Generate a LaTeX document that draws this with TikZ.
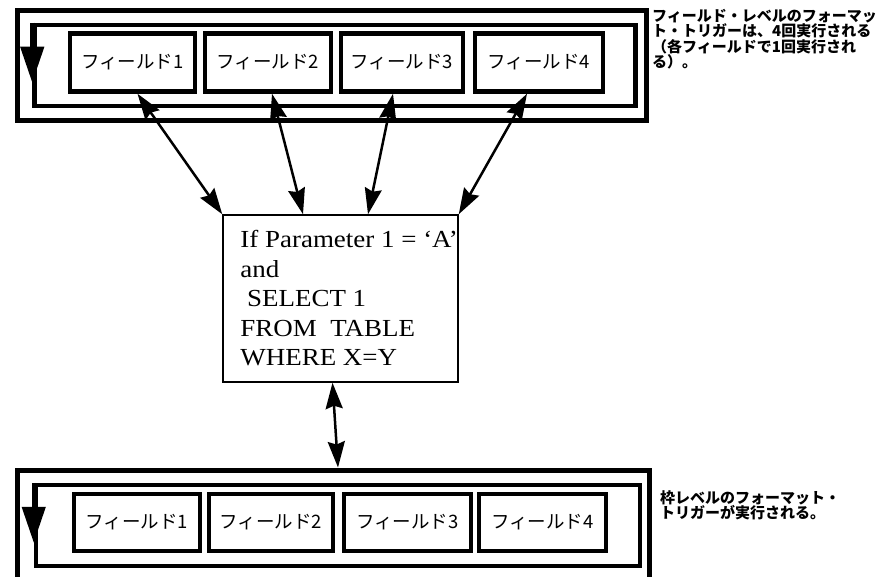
\documentclass[tikz,border=0pt]{standalone}
\usepackage{fontspec}
\setmainfont{Liberation Serif}
\newfontfamily\widefont[FakeStretch=1.1]{Liberation Serif}
\newfontfamily\jpfont{Noto Sans CJK JP}
\usetikzlibrary{arrows.meta}

\begin{document}
\begin{tikzpicture}[x=1pt,y=-1pt,
	frame/.style={draw,line width=5pt,inner sep=0pt},
	innerframe/.style={draw,line width=4.5pt,inner sep=0pt},
	field/.style={draw,line width=4.5pt,inner sep=0pt,font=\jpfont\fontsize{18.5}{18.5}\selectfont},
	link/.style={line width=2.5pt,{Stealth[length=26pt,width=17pt,inset=3pt]}-{Stealth[length=26pt,width=17pt,inset=3pt]}},
	turn/.style={line width=4.5pt,-{Triangle[length=36pt,width=23pt]}},
	note/.style={anchor=north west,align=left,inner sep=0pt,font=\jpfont\bfseries\fontsize{15}{15.5}\selectfont}]
		\useasboundingbox (0,0) rectangle (888,577);
		
		% upper frame
		\node[frame,minimum width=629pt,minimum height=110pt] (topouter) at (331.5,65.5) {};
		\node[innerframe,minimum width=601pt,minimum height=81pt] (topinner) at (335,65.5) {};
		\draw[turn] (topinner.north west) -- ++(0,60);
		
		\node[field,minimum width=125pt,minimum height=58pt] (f1) at (132.5,62.5) {フィールド1};
		\node[field,minimum width=126pt,minimum height=58pt] (f2) at (268,62.5) {フィールド2};
		\node[field,minimum width=122pt,minimum height=58pt] (f3) at (402,62.5) {フィールド3};
		\node[field,minimum width=128pt,minimum height=58pt] (f4) at (539,62.5) {フィールド4};
		
		\node[note] (topnote) at (652,9) {フィールド・レベルのフォーマッ\\ト・トリガーは、4回実行される\\（各フィールドで1回実行され\\る）。};
		
		% condition
		\node[draw,line width=1.5pt,minimum width=235pt,minimum height=167pt] (box) at (340.5,298.5) {};
		\node[anchor=north west,align=left,inner sep=0pt,font=\widefont\fontsize{24.5}{29.5}\selectfont] (cond) at ([xshift=18pt,yshift=-16pt]box.north west) {If Parameter 1 = ‘A’\\and\\\ SELECT 1\\FROM\ \ TABLE\\WHERE X=Y};
		
		\draw[link] ([xshift=5pt]f1.south) -- (box.north west);
		\draw[link] ([xshift=4pt]f2.south) -- ([xshift=-37.5pt]box.north);
		\draw[link] ([xshift=-9pt]f3.south) -- ([xshift=27.5pt]box.north);
		\draw[link] ([xshift=-12pt]f4.south) -- (box.north east);
		
		% lower frame
		\node[frame,minimum width=632pt,minimum height=150pt] (botouter) at (333,545) {};
		\node[innerframe,minimum width=604pt,minimum height=81pt] (botinner) at (338,525.5) {};
		\draw[turn] (botinner.north west) -- ++(0,60);
		
		\node[field,minimum width=126pt,minimum height=57pt] (g1) at (137,522.5) {フィールド1};
		\node[field,minimum width=124pt,minimum height=57pt] (g2) at (271,522.5) {フィールド2};
		\node[field,minimum width=127pt,minimum height=57pt] (g3) at (407.5,522.5) {フィールド3};
		\node[field,minimum width=127pt,minimum height=57pt] (g4) at (542.5,522.5) {フィールド4};
		
		\node[note] (botnote) at (660,490) {枠レベルのフォーマット・\\トリガーが実行される。};
		
		\draw[link] ([xshift=-8pt]box.south) -- ([xshift=5pt]botouter.north);
	\end{tikzpicture}
\end{document}
